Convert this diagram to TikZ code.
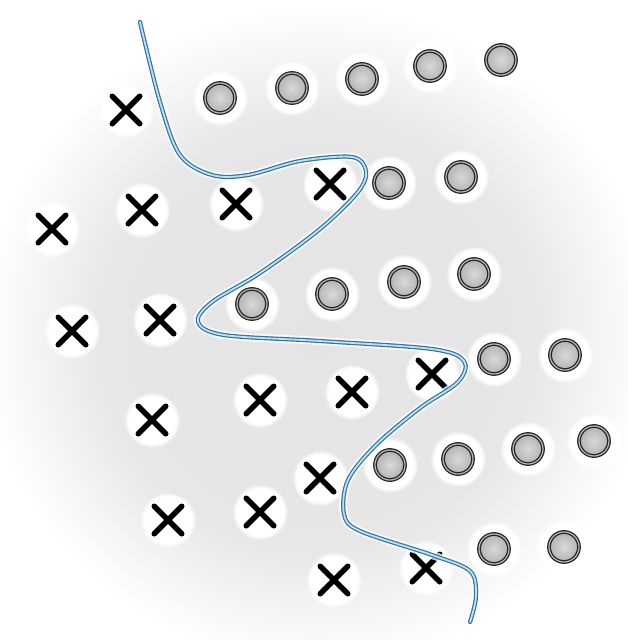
\documentclass[tikz,border=0pt]{standalone}
\usepackage{tikz}
\usetikzlibrary{shapes.misc, fadings}
\pgfdeclarelayer{bg}
\pgfsetlayers{bg,main}
\definecolor{curveblue}{RGB}{50,115,160}
\definecolor{curvelight}{RGB}{190,225,240}
\pgfdeclareradialshading{blob}{\pgfpoint{0bp}{0bp}}{color(0bp)=(gray!21); color(16bp)=(gray!19); color(25bp)=(white); color(50bp)=(white)}

\begin{document}
\begin{tikzpicture}[
    x=1pt, y=-1pt,
    xmark/.style={cross out, draw=black, line width=5.5pt, line cap=round, minimum size=22pt, inner sep=0pt},
    omark/.style={circle, draw=black!85, double=gray!55, double distance=1.2pt, line width=1.3pt, minimum size=30pt, inner sep=0pt, inner color=gray!30, outer color=gray!60},
    halo/.style={fill=white, path fading=circle with fuzzy edge 15 percent},
    boundary/.style={draw=curveblue, double=curvelight, line width=1.2pt, double distance=1.8pt, line cap=round}
]
    \useasboundingbox (0,0) rectangle (627,640);
    \clip (0,0) rectangle (627,640);
    % crosses
    \node[xmark] (x1) at (126,110) {};
    \node[xmark] (x2) at (142,210) {};
    \node[xmark] (x3) at (52,229) {};
    \node[xmark] (x4) at (236,204) {};
    \node[xmark] (x5) at (330,184) {};
    \node[xmark] (x6) at (72,331) {};
    \node[xmark] (x7) at (160,320) {};
    \node[xmark] (x8) at (152,420) {};
    \node[xmark] (x9) at (260,400) {};
    \node[xmark] (x10) at (352,392) {};
    \node[xmark] (x11) at (432,374) {};
    \node[xmark] (x12) at (320,478) {};
    \node[xmark] (x13) at (168,520) {};
    \node[xmark] (x14) at (260,512) {};
    \node[xmark] (x15) at (334,580) {};
    \node[xmark] (x16) at (426,568) {};
    % circles
    \node[omark] (o1) at (220,98) {};
    \node[omark] (o2) at (292,88) {};
    \node[omark] (o3) at (362,79) {};
    \node[omark] (o4) at (430,66) {};
    \node[omark] (o5) at (501,60) {};
    \node[omark] (o6) at (389,183) {};
    \node[omark] (o7) at (461,177) {};
    \node[omark] (o8) at (252,304) {};
    \node[omark] (o9) at (332,294) {};
    \node[omark] (o10) at (404,282) {};
    \node[omark] (o11) at (474,274) {};
    \node[omark] (o12) at (494,359) {};
    \node[omark] (o13) at (565,355) {};
    \node[omark] (o14) at (390,465) {};
    \node[omark] (o15) at (458,459) {};
    \node[omark] (o16) at (528,449) {};
    \node[omark] (o17) at (594,441) {};
    \node[omark] (o18) at (494,549) {};
    \node[omark] (o19) at (564,547) {};
    % background blob and halos
    \begin{pgfonlayer}{bg}
        \shade[shading=blob] (318,335) ellipse (335 and 330);
        \foreach \n in {x1,x2,x3,x4,x5,x6,x7,x8,x9,x10,x11,x12,x13,x14,x15,x16,
                        o1,o2,o3,o4,o5,o6,o7,o8,o9,o10,o11,o12,o13,o14,o15,o16,o17,o18,o19}
            \fill[halo] (\n) circle (28);
    \end{pgfonlayer}
    % decision boundary
    \draw[white, line width=8pt, opacity=0.8, line cap=round] plot[smooth, tension=0.55] coordinates {
        (140,22) (160,102) (180,155) (212,175) (248,175) (300,161) (352,157) (366,171)
        (358,192) (320,229) (260,273) (212,302) (198,322) (224,335) (320,341) (432,349)
        (464,361) (458,382) (420,408) (376,445) (348,480) (344,514) (360,531) (432,555)
        (470,571) (476,596) (470,622)};
    \draw[boundary] plot[smooth, tension=0.55] coordinates {
        (140,22) (160,102) (180,155) (212,175) (248,175) (300,161) (352,157) (366,171)
        (358,192) (320,229) (260,273) (212,302) (198,322) (224,335) (320,341) (432,349)
        (464,361) (458,382) (420,408) (376,445) (348,480) (344,514) (360,531) (432,555)
        (470,571) (476,596) (470,622)};
\end{tikzpicture}
\end{document}
